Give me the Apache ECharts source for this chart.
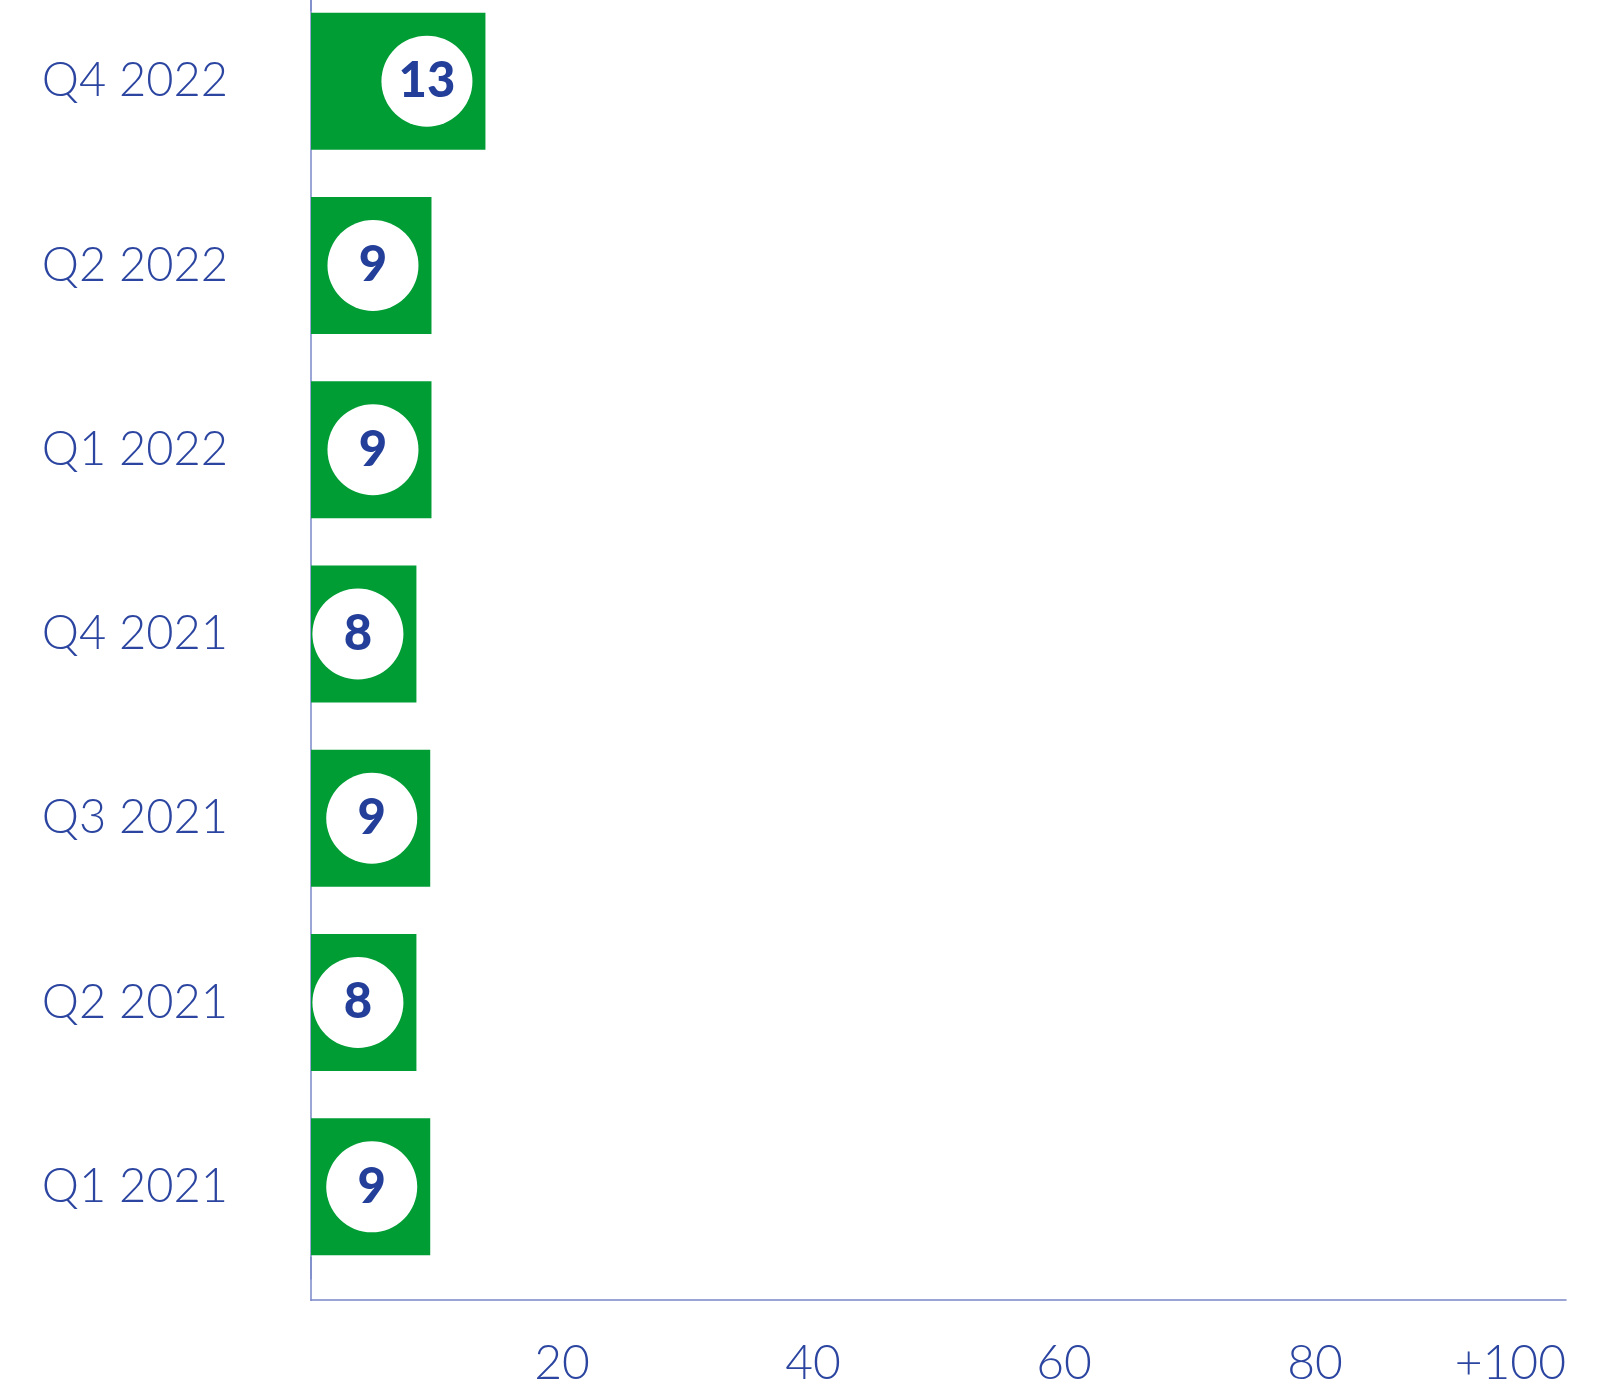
<!DOCTYPE html>
<html>
<head>
<meta charset="utf-8">
<script src="https://cdn.jsdelivr.net/npm/echarts@6/dist/echarts.min.js"></script>
<style>
  html, body { margin: 0; padding: 0; background: #fff; overflow: hidden; }
  #main { position: absolute; left: 0; top: -11px; width: 1599px; height: 1399px; }
</style>
</head>
<body>
<div id="main"></div>
<script>
// 数据（从上到下）
var categories = ['Q4 2022', 'Q2 2022', 'Q1 2022', 'Q4 2021', 'Q3 2021', 'Q2 2021', 'Q1 2021'];
// 条形长度（按坐标轴读取）
var barLengths = [13.9, 9.6, 9.6, 8.4, 9.5, 8.4, 9.5];
// 圆圈里显示的数字
var labelValues = [13, 9, 9, 8, 9, 8, 9];
// 横轴刻度
var tickValues = [20, 40, 60, 80, 100];
var tickLabels = ['20', '40', '60', '80', '+100'];

var textBlue = '#2b45a0';
var lineBlue = '#7a88c9';
var green = '#009c34';

var myChart = echarts.init(document.getElementById('main'));

var option = {
  backgroundColor: '#ffffff',
  animation: false,
  grid: {
    left: 311,
    right: 33,
    top: 0,
    bottom: 109,
    containLabel: false
  },
  xAxis: {
    type: 'value',
    min: 0,
    max: 100,
    interval: 20,
    offset: 21,
    splitLine: { show: false },
    axisTick: { show: false },
    axisLine: { show: true, lineStyle: { color: lineBlue, width: 1.5 } },
    axisLabel: {
      margin: 40,
      fontFamily: 'Lato',
      fontWeight: 300,
      fontSize: 48,
      color: textBlue,
      alignMaxLabel: 'right',
      formatter: function (v) {
        var i = tickValues.indexOf(v);
        return i >= 0 ? tickLabels[i] : '';
      }
    }
  },
  yAxis: {
    type: 'category',
    inverse: true,
    data: categories,
    axisTick: { show: false },
    axisLine: {
      show: true,
      // 两端加一段细线，让纵轴一直连到横轴
      symbol: ['rect', 'rect'],
      symbolSize: [1.5, 44],
      lineStyle: { color: lineBlue, width: 1.5 }
    },
    axisLabel: {
      margin: 83,
      fontFamily: 'Lato',
      fontWeight: 300,
      fontSize: 47,
      color: textBlue
    }
  },
  series: [
    {
      type: 'bar',
      data: barLengths,
      barWidth: 137,
      itemStyle: { color: green },
      z: 3,
      label: {
        show: true,
        position: 'insideRight',
        distance: 13,
        formatter: function (p) { return '{c|' + labelValues[p.dataIndex] + '}'; },
        rich: {
          c: {
            width: 91,
            height: 91,
            lineHeight: 91,
            align: 'center',
            backgroundColor: '#ffffff',
            borderRadius: 46,
            fontFamily: 'Lato',
            fontWeight: 900,
            fontSize: 49,
            color: '#233f99'
          }
        }
      }
    }
  ]
};

myChart.setOption(option);
</script>
</body>
</html>
